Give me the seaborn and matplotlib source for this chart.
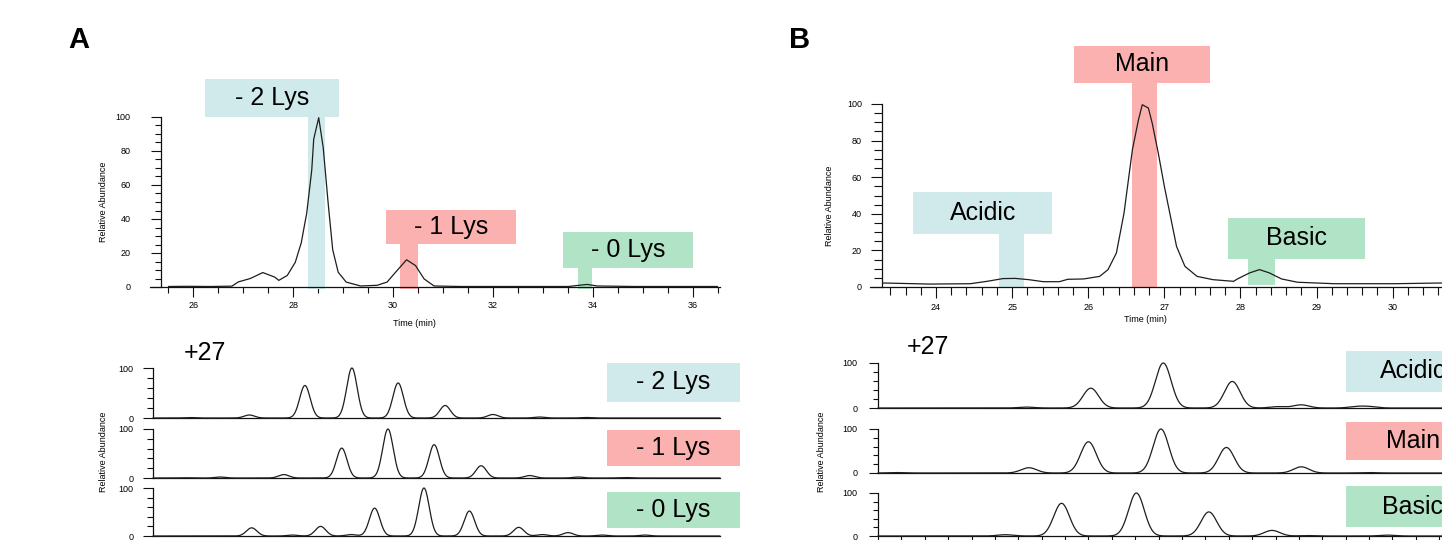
import numpy as np
import pandas as pd
import matplotlib
matplotlib.use("Agg")
import matplotlib.pyplot as plt
from matplotlib.patches import Rectangle
import seaborn as sns

# ---- panel A: chromatogram (time in min, relative abundance)
a_time = [25.50, 25.85, 26.35, 26.77, 26.90, 27.14, 27.39, 27.63, 27.71, 27.88, 28.04,
          28.16, 28.27, 28.37, 28.41, 28.51, 28.60, 28.70, 28.79, 28.90, 29.06, 29.35,
          29.68, 29.88, 30.05, 30.27, 30.45, 30.62, 30.82, 31.35, 33.52, 33.72, 33.89,
          34.09, 34.85, 36.50]
a_abund = [0.3, 0.4, 0.3, 0.5, 3.0, 5.0, 8.5, 5.8, 3.9, 6.8, 14.5,
           26.0, 43.5, 68.7, 87.0, 99.6, 82.0, 49.0, 22.0, 8.7, 2.9, 0.6,
           1.0, 2.9, 8.7, 16.0, 12.6, 4.8, 0.6, 0.3, 0.3, 1.0, 1.5,
           0.6, 0.3, 0.3]
a_labels = ["- 2 Lys", "- 1 Lys", "- 0 Lys"]

# ---- panel A: +27 charge state spectra (m/z centre, relative intensity)
a_ms_2lys_mz = [5394.6, 5402.3, 5409.4, 5415.4, 5421.3, 5427.3, 5433.4, 5439.3, 5445.4]
a_ms_2lys_int = [1, 6, 65, 100, 70, 25, 7, 2, 1]
a_ms_1lys_mz = [5394.0, 5398.6, 5406.7, 5414.1, 5420.0, 5425.9, 5431.9, 5438.1, 5444.3, 5450.2]
a_ms_1lys_int = [0.5, 2, 7, 61, 100, 68, 25, 5, 2, 1]
a_ms_0lys_mz = [5402.6, 5407.8, 5411.4, 5415.3, 5418.3, 5424.6, 5430.4, 5436.7, 5439.7,
                5443.0, 5447.3, 5452.8]
a_ms_0lys_int = [17, 2, 20, 3, 58, 100, 52, 18, 3, 7, 2, 2]

# ---- panel B: chromatogram
b_time = [23.29, 23.92, 24.45, 24.67, 24.88, 25.04, 25.22, 25.41, 25.62, 25.73, 25.94,
          26.15, 26.26, 26.37, 26.47, 26.58, 26.66, 26.71, 26.79, 26.84, 26.92, 27.00,
          27.08, 27.16, 27.27, 27.43, 27.64, 27.91, 27.96, 28.12, 28.25, 28.38, 28.54,
          28.75, 29.23, 30.03, 30.66, 31.20]
b_abund = [2.2, 1.6, 1.8, 3.1, 4.6, 4.7, 4.0, 2.9, 2.9, 4.2, 4.4,
           5.8, 9.5, 18.6, 40.4, 75.0, 91.4, 99.6, 97.8, 89.6, 73.2, 55.0,
           38.6, 22.2, 11.3, 5.8, 4.0, 3.1, 4.4, 7.7, 9.5, 7.7, 4.4,
           2.6, 1.8, 1.8, 2.2, 2.2]
b_labels = ["Acidic", "Main", "Basic"]

# ---- panel B: +27 charge state spectra
b_ms_acidic_mz = [5412.7, 5418.2, 5424.4, 5430.3, 5434.2, 5436.2, 5440.9, 5442.0]
b_ms_acidic_int = [2, 44, 100, 59, 3, 7, 3, 3]
b_ms_main_mz = [5401.6, 5412.9, 5418.0, 5424.2, 5429.8, 5436.2, 5442.0]
b_ms_main_int = [1, 12, 71, 100, 58, 14, 1]
b_ms_basic_mz = [5410.9, 5415.7, 5422.1, 5428.3, 5433.7, 5436.8, 5443.6]
b_ms_basic_int = [3, 76, 100, 56, 13, 1, 2]

PEAK_SIGMA = 0.67
BLUE, RED, GREEN = "#d0e9eb", "#fbb1af", "#b1e3c6"
LINE = "#1e1e1e"

sns.set_theme(style="white")
plt.rcParams["font.family"] = ["Liberation Sans", "DejaVu Sans"]
plt.rcParams["text.color"] = "black"
plt.rcParams["xtick.color"] = "black"
plt.rcParams["ytick.color"] = "black"

W, H = 1442, 540
fig = plt.figure(figsize=(W / 100, H / 100), dpi=100)


def add_ax(left, top, right, bottom):
    # axes placed by pixel edges of the reference
    return fig.add_axes([left / W, 1 - bottom / H, (right - left) / W, (bottom - top) / H])


def fig_text(x, y, s, **kw):
    fig.text(x / W, 1 - y / H, s, **kw)


def fig_box(x0, y0, x1, y1, color, label):
    fig.patches.append(Rectangle((x0 / W, 1 - y1 / H), (x1 - x0) / W, (y1 - y0) / H,
                                 transform=fig.transFigure, facecolor=color,
                                 edgecolor="none", zorder=0))
    fig_text((x0 + x1) / 2, (y0 + y1) / 2, label, ha="center", va="center", fontsize=18)


def style_spines(ax):
    sns.despine(ax=ax)
    for s in ("left", "bottom"):
        ax.spines[s].set_linewidth(0.9)
        ax.spines[s].set_color("#111111")
    ax.set_xlabel("")
    ax.set_ylabel("")


def chromatogram(ax, t, ab, xlim, xstart, xmajor, xminor, boxes, maj, mino, ypad, xpad):
    sns.lineplot(x=t, y=ab, ax=ax, color=LINE, linewidth=0.9, sort=False,
                 estimator=None, zorder=3)
    ax.set_xlim(*xlim)
    ax.set_ylim(0, 100)
    style_spines(ax)
    ax.spines["bottom"].set_bounds(xstart, xlim[1])
    ax.set_xticks(xmajor)
    ax.set_xticks(xminor, minor=True)
    ax.set_yticks(np.arange(0, 101, 20))
    ax.set_yticks(np.arange(0, 101, 5), minor=True)
    ax.tick_params(which="both", direction="out", width=0.8, color="#111111",
                   labelsize=6.5, bottom=True, left=True)
    ax.tick_params(which="major", length=maj)
    ax.tick_params(which="minor", length=mino)
    ax.tick_params(axis="y", pad=ypad)
    ax.tick_params(axis="x", pad=xpad)
    for (bx0, bx1, by0, by1, sx0, sx1, sy0, color, label) in boxes:
        ax.add_patch(Rectangle((bx0, by0), bx1 - bx0, by1 - by0, facecolor=color,
                               edgecolor="none", clip_on=False, zorder=1))
        ax.add_patch(Rectangle((sx0, sy0), sx1 - sx0, by0 - sy0, facecolor=color,
                               edgecolor="none", clip_on=False, zorder=1))
        ax.text((bx0 + bx1) / 2, (by0 + by1) / 2, label, ha="center", va="center",
                fontsize=18, clip_on=False, zorder=2)


def spectrum(ax, mz, inten, xlim, bottom_ticks, maj, mino, ypad):
    grid = np.linspace(xlim[0], xlim[1], 2500)
    prof = np.zeros_like(grid)
    for c, h in zip(mz, inten):
        prof += h * np.exp(-0.5 * ((grid - c) / PEAK_SIGMA) ** 2)
    df = pd.DataFrame({"mz": grid, "abundance": prof})
    sns.lineplot(data=df, x="mz", y="abundance", ax=ax, color=LINE, linewidth=0.9,
                 estimator=None, zorder=3, clip_on=False)
    ax.set_xlim(*xlim)
    ax.set_ylim(0, 100)
    style_spines(ax)
    ax.set_yticks([0, 100])
    ax.set_yticks([20, 40, 60, 80], minor=True)
    ax.tick_params(which="both", direction="out", width=0.8, color="#111111",
                   labelsize=6.5, left=True, pad=ypad)
    ax.tick_params(axis="y", which="major", length=maj)
    ax.tick_params(axis="y", which="minor", length=mino)
    if bottom_ticks:
        ax.set_xticks(np.arange(np.ceil(xlim[0]), xlim[1], 2))
        ax.tick_params(axis="x", bottom=True, length=5, labelbottom=False)
    else:
        ax.set_xticks([])


# ================= panel A =================
fig_text(79, 40, "A", fontsize=21, fontweight="bold", ha="center", va="center")
axA = add_ax(161, 117, 720, 287)
chromatogram(axA, a_time, a_abund, (25.35, 36.55), 25.13,
             [26, 28, 30, 32, 34, 36], np.arange(25.5, 36.6, 0.5),
             [(26.24, 28.92, 100.2, 122.4, 28.29, 28.63, -1, BLUE, a_labels[0]),
              (29.86, 32.47, 25.1, 45.0, 30.14, 30.49, -1, RED, a_labels[1]),
              (33.40, 36.01, 11.0, 32.5, 33.71, 33.99, -1, GREEN, a_labels[2])],
             7, 4.5, 15, 3)
fig_text(414, 323, "Time (min)", fontsize=6.5, ha="center", va="center")
fig_text(104, 202, "Relative Abundance", fontsize=6.5, rotation=90, ha="center", va="center")

fig_text(205, 353, "+27", fontsize=18, ha="center", va="center")
a_specs = [(a_ms_2lys_mz, a_ms_2lys_int), (a_ms_1lys_mz, a_ms_1lys_int),
           (a_ms_0lys_mz, a_ms_0lys_int)]
a_rows = [(368, 418), (429, 478), (488, 536)]
for (mz, inten), (top, bot) in zip(a_specs, a_rows):
    ax = add_ax(153, top, 720, bot)
    spectrum(ax, mz, inten, (5390, 5462.4), False, 7, 4.3, 7)
for (y0, y1), color, label in zip([(363, 402), (430, 466), (492, 528)],
                                  [BLUE, RED, GREEN], a_labels):
    fig_box(607, y0, 740, y1, color, label)
fig_text(104, 452, "Relative Abundance", fontsize=6.5, rotation=90, ha="center", va="center")

# ================= panel B =================
fig_text(800, 40, "B", fontsize=21, fontweight="bold", ha="center", va="center")
axB = add_ax(882, 104, 1484, 287)
chromatogram(axB, b_time, b_abund, (23.29, 31.2), 23.13,
             np.arange(24, 31, 1), np.arange(23.4, 31.2, 0.2),
             [(23.70, 25.53, 28.8, 51.7, 24.83, 25.16, 0, BLUE, b_labels[0]),
              (25.81, 27.60, 111.5, 131.9, 26.58, 26.90, 0, RED, b_labels[1]),
              (27.83, 29.64, 15.5, 37.7, 28.10, 28.45, 1.2, GREEN, b_labels[2])],
             8, 5.5, 6.5, 3.5)
fig_text(1145, 320, "Time (min)", fontsize=6.5, ha="center", va="center")
fig_text(830, 206, "Relative Abundance", fontsize=6.5, rotation=90, ha="center", va="center")

fig_text(928, 347, "+27", fontsize=18, ha="center", va="center")
b_specs = [(b_ms_acidic_mz, b_ms_acidic_int), (b_ms_main_mz, b_ms_main_int),
           (b_ms_basic_mz, b_ms_basic_int)]
b_rows = [(363, 408), (429, 473), (493, 536)]
for i, ((mz, inten), (top, bot)) in enumerate(zip(b_specs, b_rows)):
    ax = add_ax(878, top, 1500, bot)
    spectrum(ax, mz, inten, (5400, 5453.2), i == 2, 6.7, 3.8, 8)
for (y0, y1), color, label in zip([(351, 392), (422, 460), (486, 527)],
                                  [BLUE, RED, GREEN], b_labels):
    fig_box(1346, y0, 1480, y1, color, label)
fig_text(822, 452, "Relative Abundance", fontsize=6.5, rotation=90, ha="center", va="center")

fig.savefig("out.png", dpi=100)
